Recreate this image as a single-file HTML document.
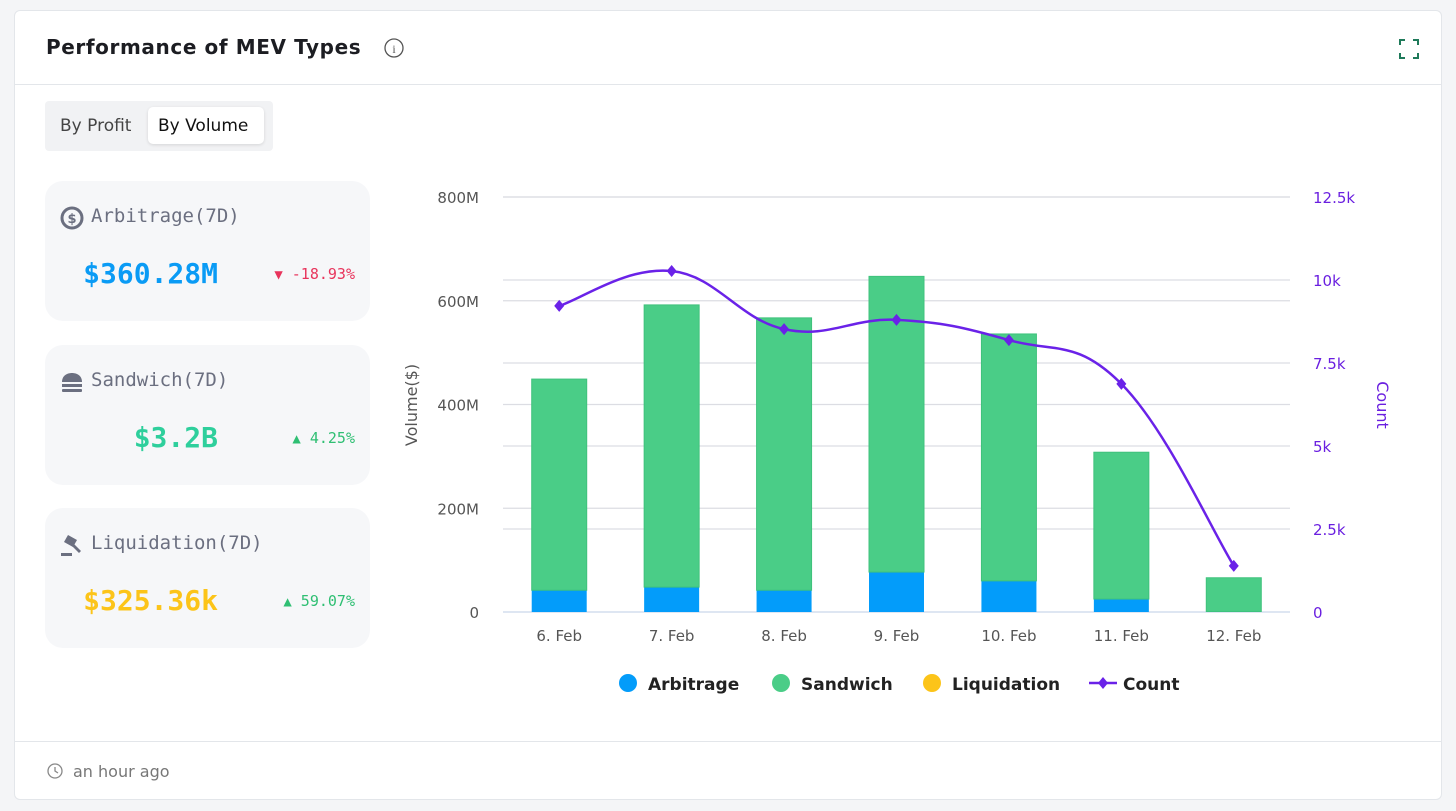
<!DOCTYPE html>
<html><head><meta charset="utf-8"><style>
body{margin:0;width:1456px;height:811px;background:#f4f5f7;font-family:"DejaVu Sans","Liberation Sans",sans-serif;overflow:hidden;position:relative}
.card{position:absolute;left:14px;top:10px;width:1428px;height:790px;background:#fff;border:1px solid #e3e6ea;border-radius:6px;box-sizing:border-box}
.abs{position:absolute}
.mono{font-family:"DejaVu Sans Mono","Liberation Mono",monospace}
.stat{position:absolute;left:30px;width:325px;height:140px;background:#f6f7f9;border-radius:18px}
.lbl{position:absolute;left:46px;top:24px;font-size:19px;color:#6b6f80}
.val{position:absolute;right:152px;top:76px;font-size:28px;font-weight:bold}
.pct{position:absolute;right:15px;top:84px;font-size:15px}
</style></head><body>
<div class="card">
 <div class="abs" style="left:31px;top:24px;font-size:20px;letter-spacing:0.6px;font-weight:bold;color:#1c1d22">Performance of MEV Types</div>
 <svg class="abs" style="left:368px;top:26px" width="22" height="22"><circle cx="11" cy="11" r="9" fill="none" stroke="#555" stroke-width="1.3"/><text x="11" y="16" font-size="12" text-anchor="middle" fill="#555" font-family="Liberation Serif">i</text></svg>
 <svg class="abs" style="left:1383px;top:27px" width="22" height="22"><path d="M2 7V2h5M15 2h5v5M20 15v5h-5M7 20H2v-5" fill="none" stroke="#1f7a5a" stroke-width="2"/></svg>
 <div class="abs" style="left:0;top:73px;width:100%;height:1px;background:#e3e6ea"></div>
 <div class="abs" style="left:30px;top:90px;width:228px;height:50px;background:#f1f2f4;border-radius:4px">
  <div class="abs" style="left:15px;top:15px;font-size:17px;color:#444">By Profit</div>
  <div class="abs" style="left:103px;top:6px;width:116px;height:37px;background:#fff;border-radius:5px;box-shadow:0 1px 3px rgba(0,0,0,.12)"><span class="abs" style="left:10px;top:9px;font-size:17px;color:#111">By Volume</span></div>
 </div>
 <div class="stat" style="top:170px">
  <svg class="abs" style="left:15px;top:25px" width="24" height="24"><circle cx="12" cy="12" r="10" fill="none" stroke="#6b6f80" stroke-width="3"/><text x="12" y="17" font-size="13" font-weight="bold" text-anchor="middle" fill="#6b6f80">$</text></svg>
  <div class="lbl mono">Arbitrage(7D)</div>
  <div class="val mono" style="color:#0a9bf5">$360.28M</div>
  <div class="pct mono" style="color:#e8345c"><span style="font-size:14px">▼</span> -18.93%</div>
 </div>
 <div class="stat" style="top:334px">
  <svg class="abs" style="left:15px;top:25px" width="24" height="24"><path d="M2 12C2 5 8 3 12 3s10 2 10 9z" fill="#6b6f80"/><rect x="2" y="14" width="20" height="3" fill="#6b6f80"/><rect x="2" y="19" width="20" height="3" rx="1" fill="#6b6f80"/></svg>
  <div class="lbl mono">Sandwich(7D)</div>
  <div class="val mono" style="color:#2ecf9c">$3.2B</div>
  <div class="pct mono" style="color:#2fbf73"><span style="font-size:14px">▲</span> 4.25%</div>
 </div>
 <div class="stat" style="top:497px">
  <svg class="abs" style="left:15px;top:25px" width="24" height="24"><path d="M8 2l9 5-4 7-9-5z" fill="#6b6f80"/><path d="M13 10l8 8-2 2-8-8z" fill="#6b6f80"/><rect x="1" y="20" width="11" height="3" fill="#6b6f80"/></svg>
  <div class="lbl mono">Liquidation(7D)</div>
  <div class="val mono" style="color:#fcc419">$325.36k</div>
  <div class="pct mono" style="color:#2fbf73"><span style="font-size:14px">▲</span> 59.07%</div>
 </div>
 <div class="abs" style="left:0;top:730px;width:100%;height:1px;background:#e3e6ea"></div>
 <svg class="abs" style="left:31px;top:751px" width="18" height="18"><circle cx="9" cy="9" r="7" fill="none" stroke="#888" stroke-width="1.3"/><path d="M9 5v4l3 2" fill="none" stroke="#888" stroke-width="1.3"/></svg>
 <div class="abs" style="left:58px;top:751px;font-size:16px;color:#777">an hour ago</div>
</div>
<svg id="chart" class="abs" style="left:0;top:0" width="1456" height="811"></svg>
<script>
const categories=["6. Feb","7. Feb","8. Feb","9. Feb","10. Feb","11. Feb","12. Feb"];
const arbitrage=[42,48,42,77,60,25,1];
const sandwich=[407,544,525,570,476,283,65];
const liquidation=[0,0,0,0,0,0,0];
const counts=[9.22,10.27,8.52,8.8,8.19,6.87,1.39];
const leftTicks=[0,200,400,600,800];
const leftLabels=["0","200M","400M","600M","800M"];
const rightTicks=[0,2.5,5,7.5,10,12.5];
const rightLabels=["0","2.5k","5k","7.5k","10k","12.5k"];
const svg=document.getElementById('chart');const NS='http://www.w3.org/2000/svg';
const X0=503,X1=1290,Y0=612,Y1=197;
const yL=v=>Y0-(v/800)*(Y0-Y1);
const yR=v=>Y0-(v/12.5)*(Y0-Y1);
const step=(X1-X0)/categories.length;
const xC=i=>X0+step*(i+0.5);
function mk(t,a,txt){const e=document.createElementNS(NS,t);for(const k in a)e.setAttribute(k,a[k]);if(txt!==undefined)e.textContent=txt;svg.appendChild(e);return e;}
const F='"DejaVu Sans","Liberation Sans",sans-serif';
leftTicks.forEach((v,i)=>{
 const g=mk('line',{x1:X0,x2:X1,y1:yL(v),y2:yL(v),stroke:i==0?'#c9d6ea':'#dcdde3','stroke-width':1.3});
 
 
 const t=mk('text',{x:479,y:yL(v)+6,'text-anchor':'end','font-size':15,fill:'#555','font-family':F},leftLabels[i]);
 
 
});
rightTicks.forEach((v,i)=>{
 if(v%200!==0){const g=mk('line',{x1:X0,x2:X1,y1:yR(v),y2:yR(v),stroke:'#dcdde3','stroke-width':1.3});
 
 }
 const t=mk('text',{x:1313,y:yR(v)+6,'font-size':15,fill:'#6a1fe0','font-family':F},rightLabels[i]);
 
 
});
let ty=mk('text',{x:0,y:0,transform:'translate(417,405) rotate(-90)','text-anchor':'middle','font-size':16,fill:'#555','font-family':F},'Volume($)');


ty=mk('text',{x:0,y:0,transform:'translate(1377,405) rotate(90)','text-anchor':'middle','font-size':16,fill:'#6a1fe0','font-family':F},'Count');


const bw=55;
categories.forEach((c,i)=>{
 const x=xC(i)-bw/2;
 const a=mk('rect',{x:x,y:yL(arbitrage[i]),width:bw,height:Y0-yL(arbitrage[i]),fill:'#039cfa'});
 
 
 const top=arbitrage[i]+sandwich[i];
 const s=mk('rect',{x:x,y:yL(top),width:bw,height:yL(arbitrage[i])-yL(top),fill:'#4acd87',stroke:'#3fc27c','stroke-width':1});
 
 
 const lq=top+liquidation[i];
 if(liquidation[i]>0){const l=mk('rect',{x:x,y:yL(lq),width:bw,height:yL(top)-yL(lq),fill:'#fcc419'});
 
 }
 const t=mk('text',{x:xC(i),y:641,'text-anchor':'middle','font-size':15,fill:'#555','font-family':F},c);
 
 
});
const pts=counts.map((v,i)=>[xC(i),yR(v)]);
let d='M'+pts[0][0]+' '+pts[0][1];
for(let i=0;i<pts.length-1;i++){
 const p0=pts[Math.max(0,i-1)],p1=pts[i],p2=pts[i+1],p3=pts[Math.min(pts.length-1,i+2)];
 const k=0.2;
 d+=` C${p1[0]+(p2[0]-p0[0])*k} ${p1[1]+(p2[1]-p0[1])*k} ${p2[0]-(p3[0]-p1[0])*k} ${p2[1]-(p3[1]-p1[1])*k} ${p2[0]} ${p2[1]}`;
}
const ln=mk('path',{d:d,fill:'none',stroke:'#6a22e8','stroke-width':2.5});


pts.forEach(p=>{
 const m=mk('path',{d:`M${p[0]} ${p[1]-6}L${p[0]+5} ${p[1]}L${p[0]} ${p[1]+6}L${p[0]-5} ${p[1]}Z`,fill:'#6a22e8'});
 
 
});
const leg=[['Arbitrage','#039cfa',628],['Sandwich','#4acd87',781],['Liquidation','#fcc419',932]];
leg.forEach(l=>{
 const c=mk('circle',{cx:l[2],cy:683,r:9,fill:l[1]});
 
 
 const t=mk('text',{x:l[2]+20,y:690,'font-size':17,'font-weight':'bold',fill:'#222','font-family':F},l[0]);
 
 
});
const ll=mk('line',{x1:1089,x2:1117,y1:683,y2:683,stroke:'#6a22e8','stroke-width':2.5});


const lm=mk('path',{d:'M1103 677L1108 683L1103 689L1098 683Z',fill:'#6a22e8'});


const lt=mk('text',{x:1123,y:690,'font-size':17,'font-weight':'bold',fill:'#222','font-family':F},'Count');


</script>
</body></html>
